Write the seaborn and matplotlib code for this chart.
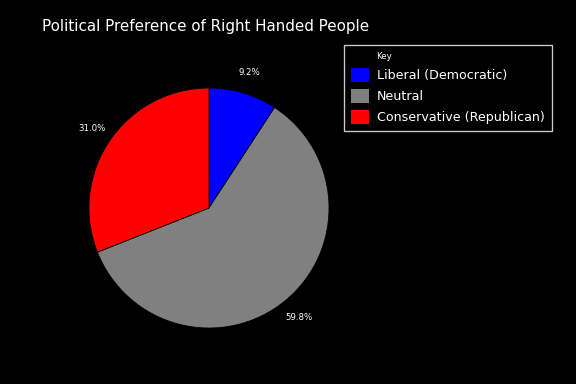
import matplotlib
matplotlib.use('Agg')
import matplotlib.pyplot as plt
import matplotlib.patches as mpatches
import seaborn as sns

# chart data
categories = ['Liberal (Democratic)', 'Neutral', 'Conservative (Republican)']
shares = [9.2, 59.8, 31.0]
colors = ['#0000ff', '#808080', '#ff0000']
title = 'Political Preference of Right Handed People'

sns.set_style('dark', rc={'figure.facecolor': 'black', 'axes.facecolor': 'black',
                          'text.color': 'white'})
plt.rcParams['font.family'] = ['DejaVu Sans']

fig = plt.figure(figsize=(6, 4), dpi=96)
fig.patch.set_facecolor('black')

# pie axes: centre ~ (209, 208) px, radius ~120 px
ax = fig.add_axes([0.1545, 0.1458, 0.4167, 0.625])
ax.set_facecolor('black')
wedges, texts, autotexts = ax.pie(
    shares, colors=colors, startangle=90, counterclock=False,
    autopct='%.1f%%', pctdistance=1.18, radius=1,
    wedgeprops={'edgecolor': 'black', 'linewidth': 0.6},
    textprops={'color': 'white', 'fontsize': 6.5})
ax.set_xlim(-1, 1)
ax.set_ylim(-1, 1)
ax.set_aspect('equal')
ax.axis('off')

fig.text(42 / 576, 1 - 27 / 384, title, fontsize=11.3, color='white',
         ha='left', va='center')

handles = [mpatches.Patch(facecolor=c, edgecolor='none', label=l)
           for c, l in zip(colors, categories)]
leg = fig.legend(handles=handles, loc='upper left',
                 bbox_to_anchor=(344 / 576, 1 - 45 / 384), borderaxespad=0,
                 title='Key', title_fontsize=6.5, fontsize=9.5,
                 frameon=True, fancybox=False, facecolor='black',
                 edgecolor='white', labelcolor='white',
                 handlelength=1.45, handleheight=1.3, handletextpad=0.6,
                 labelspacing=0.55, borderpad=0.55)
leg.get_frame().set_linewidth(1.0)
leg.get_title().set_color('white')
leg._legend_box.align = 'left'
leg.get_title().set_position((25, 0))

fig.savefig('out.png', dpi=96, facecolor='black')
